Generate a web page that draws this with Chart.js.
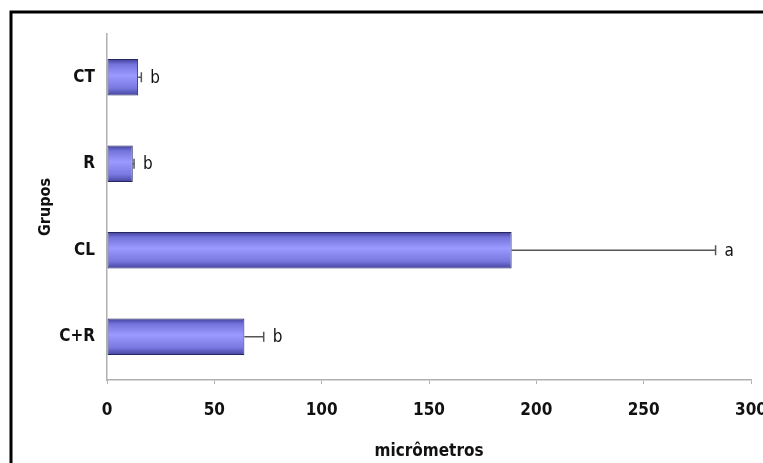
<!DOCTYPE html>
<html>
<head>
<meta charset="utf-8">
<script src="https://cdn.jsdelivr.net/npm/chart.js@4"></script>
<style>
  html, body { margin: 0; padding: 0; background: #ffffff; }
  #wrap { width: 763px; height: 463px; position: relative; }
</style>
</head>
<body>
<div id="wrap"><canvas id="c" width="763" height="463"></canvas></div>
<script>
// Grupos experimentais e medidas (micrômetros)
const groups = ['CT', 'R', 'CL', 'C+R'];
const means = [14.5, 12, 188.5, 64];
const errors = [1.5, 0.6, 95, 9];
const letters = ['b', 'b', 'a', 'b'];
const xTicks = [0, 50, 100, 150, 200, 250, 300];

const FONT = "'DejaVu Sans Condensed', 'Liberation Sans Narrow', 'Arial Narrow', sans-serif";

// outer frame (black, top and left edges)
const framePlugin = {
  id: 'frame',
  beforeDraw(chart) {
    const ctx = chart.ctx;
    ctx.save();
    ctx.fillStyle = '#ffffff';
    ctx.fillRect(0, 0, chart.width, chart.height);
    ctx.strokeStyle = '#000000';
    ctx.lineWidth = 3;
    ctx.beginPath();
    ctx.moveTo(11, chart.height + 2);
    ctx.lineTo(11, 12);
    ctx.lineTo(chart.width + 2, 12);
    ctx.stroke();
    ctx.restore();
  }
};

// vertical shading of each bar
const shadePlugin = {
  id: 'shade',
  beforeDatasetsDraw(chart) {
    const ctx = chart.ctx;
    chart.getDatasetMeta(0).data.forEach(bar => {
      const h = bar.height;
      const top = bar.y - h / 2;
      const g = ctx.createLinearGradient(0, top, 0, top + h);
      g.addColorStop(0, '#40409a');
      g.addColorStop(0.15, '#7474dc');
      g.addColorStop(0.45, '#9a9aff');
      g.addColorStop(0.8, '#7878e0');
      g.addColorStop(1, '#44449e');
      bar.options = Object.assign({}, bar.options, { backgroundColor: g });
    });
  }
};

// error bars (positive side) and significance letters
const errorPlugin = {
  id: 'errors',
  afterDatasetsDraw(chart) {
    const ctx = chart.ctx;
    const xs = chart.scales.x;
    const ys = chart.scales.y;
    ctx.save();
    groups.forEach((g, i) => {
      const y = ys.getPixelForValue(i);
      const x0 = xs.getPixelForValue(means[i]);
      const x1 = xs.getPixelForValue(means[i] + errors[i]);
      ctx.strokeStyle = '#555555';
      ctx.lineWidth = 1.5;
      ctx.beginPath();
      ctx.moveTo(x0, y);
      ctx.lineTo(x1, y);
      ctx.moveTo(x1, y - 5);
      ctx.lineTo(x1, y + 5);
      ctx.stroke();
      ctx.fillStyle = '#111111';
      ctx.font = "17px " + FONT;
      ctx.textAlign = 'left';
      ctx.textBaseline = 'middle';
      ctx.fillText(letters[i], x1 + 9, y + 1);
    });
    ctx.restore();
  }
};

new Chart(document.getElementById('c'), {
  type: 'bar',
  data: {
    labels: groups,
    datasets: [{
      data: means,
      backgroundColor: '#8a8af0',
      borderColor: '#262660',
      borderWidth: 1,
      borderSkipped: false,
      barPercentage: 0.42,
      categoryPercentage: 1
    }]
  },
  options: {
    indexAxis: 'y',
    responsive: false,
    animation: false,
    devicePixelRatio: 1,
    layout: { padding: { left: 0, top: 34, right: 12, bottom: 0 } },
    plugins: {
      legend: { display: false },
      tooltip: { enabled: false }
    },
    scales: {
      x: {
        min: 0,
        max: 300,
        afterBuildTicks(scale) { scale.ticks = xTicks.map(v => ({ value: v })); },
        afterFit(scale) {
          scale.height = 83;
          scale.paddingLeft = 0;
          scale.paddingRight = 0;
        },
        grid: {
          display: true,
          drawOnChartArea: false,
          drawTicks: true,
          tickLength: 4,
          color: '#b0b0b0'
        },
        border: { display: true, color: '#b0b0b0', width: 1.5 },
        ticks: {
          padding: 16,
          color: '#111111',
          font: { family: FONT, size: 17, weight: 'bold' }
        },
        title: {
          display: true,
          text: 'micrômetros',
          color: '#111111',
          padding: { top: 0, bottom: 1 },
          font: { family: FONT, size: 17, weight: 'bold' }
        }
      },
      y: {
        afterFit(scale) { scale.width = 107; },
        grid: { display: false, drawTicks: false },
        border: { display: true, color: '#b0b0b0', width: 1.5 },
        ticks: {
          padding: 12,
          color: '#111111',
          font: { family: FONT, size: 17, weight: 'bold' }
        },
        title: {
          display: true,
          text: 'Grupos',
          color: '#111111',
          padding: { top: 36, bottom: 0 },
          font: { family: FONT, size: 16, weight: 'bold' }
        }
      }
    }
  },
  plugins: [framePlugin, shadePlugin, errorPlugin]
});
</script>
</body>
</html>
